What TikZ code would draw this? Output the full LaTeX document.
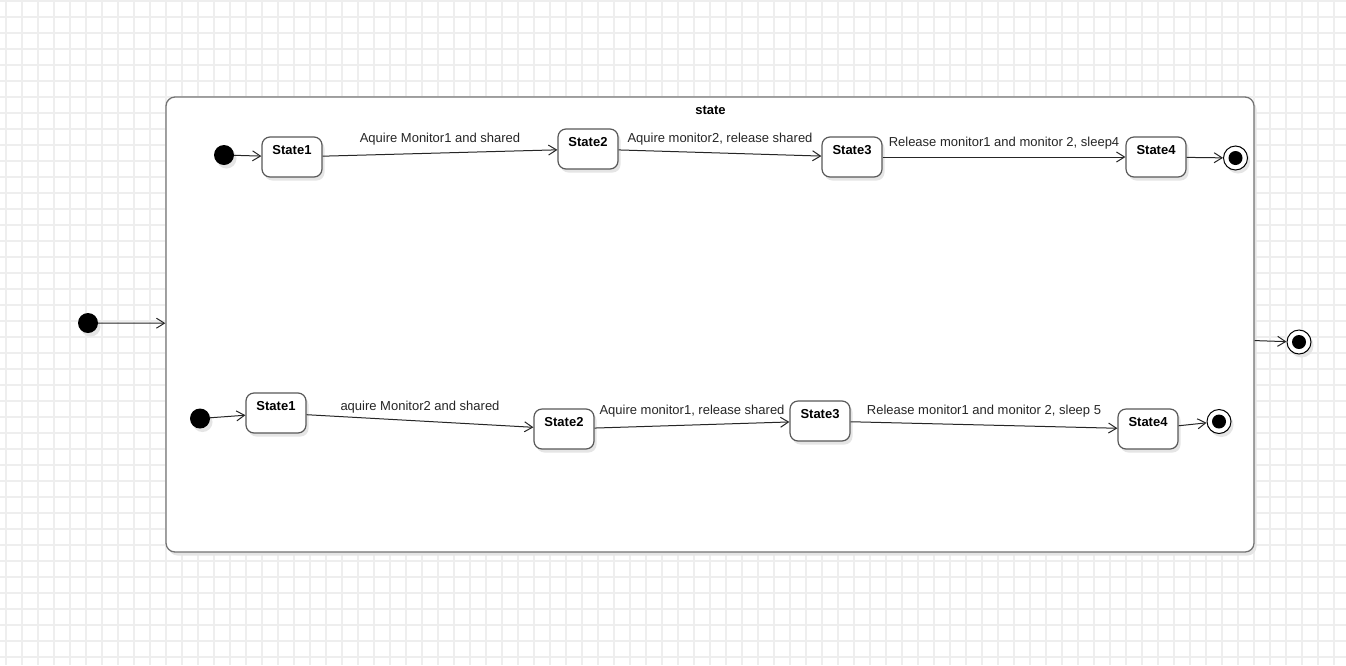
\documentclass[tikz,border=0pt]{standalone}
\usepackage{fontspec}
\setmainfont{Liberation Sans}
\usetikzlibrary{arrows.meta,shadows}
\begin{document}
\begin{tikzpicture}[x=1pt,y=-1pt,
  gridline/.style={draw=black!6.5, line width=1.2pt},
  shade/.style={drop shadow={shadow xshift=2.5pt, shadow yshift=-3.5pt, fill=black!10, opacity=1}},
  statebox/.style={draw=black!65, line width=1.2pt, rounded corners=8pt, fill=white,
    minimum width=60pt, minimum height=40pt, inner sep=0pt,
    font=\fontsize{13}{15}\selectfont\bfseries, text height=9pt, text depth=15pt, shade},
  startdot/.style={circle, fill=black, minimum size=20pt, inner sep=0pt, shade},
  enddot/.style={circle, draw=black, line width=1pt, fill=white, minimum size=24pt, inner sep=0pt, shade,
    path picture={\fill[black] (path picture bounding box.center) circle (7pt);}},
  conn/.style={draw=black!85, line width=1pt, -{Straight Barb[length=8pt,width=10pt]}},
  lbl/.style={font=\fontsize{13}{15}\selectfont, text=black!85, yshift=14pt, inner sep=0pt}
]
\useasboundingbox (0,0) rectangle (1346,665);
\fill[white] (0,0) rectangle (1346,665);
\foreach \x in {6,22,...,1350} \draw[gridline] (\x,0) -- (\x,665);
\foreach \y in {1,17,...,673} \draw[gridline] (0,\y) -- (1346,\y);

% outer composite state
\node[draw=black!55, line width=1.3pt, rounded corners=9pt, fill=white,
  minimum width=1088pt, minimum height=455pt, inner sep=0pt, shade] (box) at (710,324.5) {};
\node[font=\fontsize{13}{15}\selectfont\bfseries] (title) at (710.5,110.5) {state};

\node[startdot] (d0) at (88,323) {};
\node[enddot] (f0) at (1299,342) {};
\draw[conn] (d0) -- (box);
\draw[conn] (box) -- (f0);

% top region
\node[startdot] (td) at (224,155) {};
\node[statebox] (t1) at (292,157) {State1};
\node[statebox] (t2) at (588,149) {State2};
\node[statebox] (t3) at (852,157) {State3};
\node[statebox] (t4) at (1156,157) {State4};
\node[enddot] (tf) at (1235.5,158) {};
\draw[conn] (td) -- (t1);
\draw[conn] (t1) -- node[lbl, midway] {Aquire Monitor1 and shared} (t2);
\draw[conn] (t2) -- node[lbl, midway] {Aquire monitor2, release shared} (t3);
\draw[conn] (t3) -- node[lbl, midway] {Release monitor1 and monitor 2, sleep4} (t4);
\draw[conn] (t4) -- (tf);

% bottom region
\node[startdot] (bd) at (200,418.5) {};
\node[statebox] (b1) at (276,413) {State1};
\node[statebox] (b2) at (564,429) {State2};
\node[statebox] (b3) at (820,421) {State3};
\node[statebox] (b4) at (1148,429) {State4};
\node[enddot] (bf) at (1219,421.5) {};
\draw[conn] (bd) -- (b1);
\draw[conn] (b1) -- node[lbl, midway] {aquire Monitor2 and shared} (b2);
\draw[conn] (b2) -- node[lbl, midway] {Aquire monitor1, release shared} (b3);
\draw[conn] (b3) -- node[lbl, midway] {Release monitor1 and monitor 2, sleep 5} (b4);
\draw[conn] (b4) -- (bf);
\end{tikzpicture}
\end{document}
